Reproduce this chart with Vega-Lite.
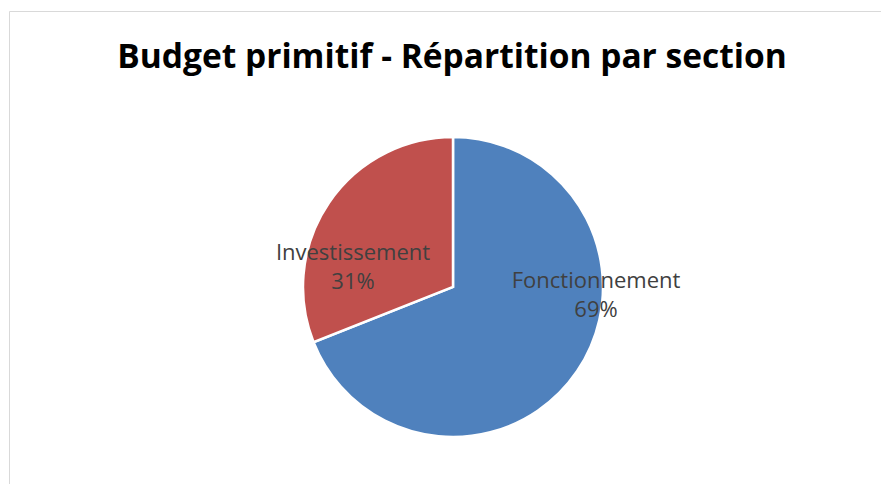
{
  "$schema": "https://vega.github.io/schema/vega-lite/v6.json",
  "width": 872,
  "height": 473,
  "autosize": {"type": "none"},
  "padding": {"left": 9, "top": 11, "right": 0, "bottom": 0},
  "background": "white",
  "view": {"stroke": "#d9d9d9", "strokeWidth": 1},
  "title": {
    "text": "Budget primitif - Répartition par section",
    "font": "Open Sans",
    "fontSize": 33.5,
    "fontWeight": "bold",
    "color": "#000000",
    "anchor": "middle",
    "offset": -64,
    "dx": 7
  },
  "data": {
    "values": [
      {"section": "Fonctionnement", "pct": 69},
      {"section": "Investissement", "pct": 31}
    ]
  },
  "transform": [
    {"calculate": "datum.section + '|' + datum.pct + '%'", "as": "label"}
  ],
  "layer": [
    {
      "mark": {"type": "arc", "outerRadius": 150, "x": 444, "y": 276, "stroke": "white", "strokeWidth": 2.5},
      "encoding": {
        "theta": {"field": "pct", "type": "quantitative", "stack": true},
        "color": {
          "field": "section",
          "type": "nominal",
          "scale": {"domain": ["Fonctionnement", "Investissement"], "range": ["#4f81bd", "#c0504d"]},
          "legend": null
        }
      }
    },
    {
      "transform": [{"filter": "datum.section == 'Fonctionnement'"}],
      "mark": {"type": "text", "x": 444, "y": 276, "dx": 143, "dy": -6, "font": "Open Sans", "fontSize": 22, "color": "#404040", "lineBreak": "|", "lineHeight": 29, "align": "center", "baseline": "middle"},
      "encoding": {"text": {"field": "label", "type": "nominal"}}
    },
    {
      "transform": [{"filter": "datum.section == 'Investissement'"}],
      "mark": {"type": "text", "x": 444, "y": 276, "dx": -100, "dy": -34, "font": "Open Sans", "fontSize": 22, "color": "#404040", "lineBreak": "|", "lineHeight": 29, "align": "center", "baseline": "middle"},
      "encoding": {"text": {"field": "label", "type": "nominal"}}
    }
  ]
}
